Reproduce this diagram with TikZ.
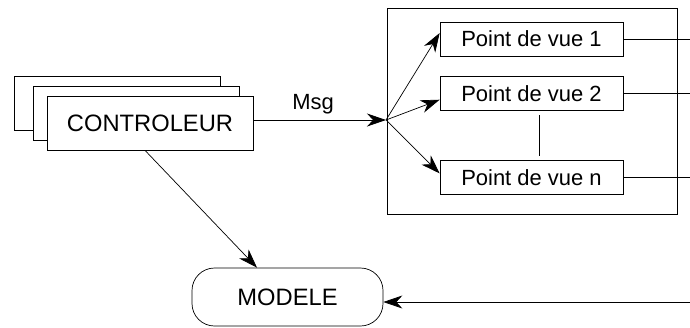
\documentclass[tikz,border=0pt]{standalone}
\usepackage{fontspec}
\setmainfont{Liberation Sans}
\usepackage{tikz}
\usetikzlibrary{positioning, arrows.meta}
\tikzset{
>={Stealth[length=3.8mm, width=2.6mm, inset=1.2mm]}, % big pointed heads
line width=0.9pt, % all lines a bit heavy
every node/.style={font=\fontsize{12.5}{15}\selectfont}, % text size for all nodes
boite/.style={draw, fill=white, minimum width=4.12cm, minimum height=1.08cm}, % controller sheets
vue/.style={draw, minimum width=3.66cm, minimum height=0.68cm, inner sep=0pt}, % the point of view boxes
modele/.style={draw, rounded corners=0.45cm, minimum width=3.82cm, minimum height=1.16cm}, % the model
}
\begin{document}
\begin{tikzpicture}
            \useasboundingbox (0,0) rectangle (13.8,-6.54);

            % stack of controllers
            \node[boite] (ctrlC) at (2.35,-2.06) {};
            \node[boite] (ctrlB) at (2.73,-2.26) {};
            \node[boite, font=\fontsize{13.5}{16}\selectfont] (ctrl) at (3.0,-2.46) {CONTROLEUR};

            % the views
            \node[draw, minimum width=5.8cm, minimum height=4.12cm] (vues) at (10.64,-2.22) {};
            \node[vue] (v1) at (10.63,-0.78) {Point de vue 1};
            \node[vue, below=0.4cm of v1] (v2) {Point de vue 2};
            \node[vue, below=0.98cm of v2] (vn) {Point de vue n};

            \node[modele, font=\fontsize{13.5}{16}\selectfont] (mod) at (5.75,-5.94) {MODELE};

            \coordinate (j) at (7.72,-2.4);
            \coordinate (bord) at (13.8,-6.04);

            \draw[->] (ctrl.east |- j) -- node[above, pos=0.45]{Msg} (j);
            \draw[->] (j) -- ([yshift=0.12cm]v1.west);
            \draw[->] (j) -- ([yshift=-0.12cm]v2.west);
            \draw[->] (j) -- ([yshift=0.08cm]vn.west);
            \draw ([xshift=0.15cm, yshift=-0.08cm]v2.south) -- ([xshift=0.15cm, yshift=0.08cm]vn.north);

            \draw (v1.east) -- (v1.east -| bord)
                  (v2.east) -- (v2.east -| bord)
                  (vn.east) -- (vn.east -| bord);
            \draw[->] (bord) -- (bord -| mod.east);
            \draw[->] ([xshift=-0.1cm]ctrl.south) -- ([xshift=-0.61cm]mod.north);
\end{tikzpicture}
\end{document}
